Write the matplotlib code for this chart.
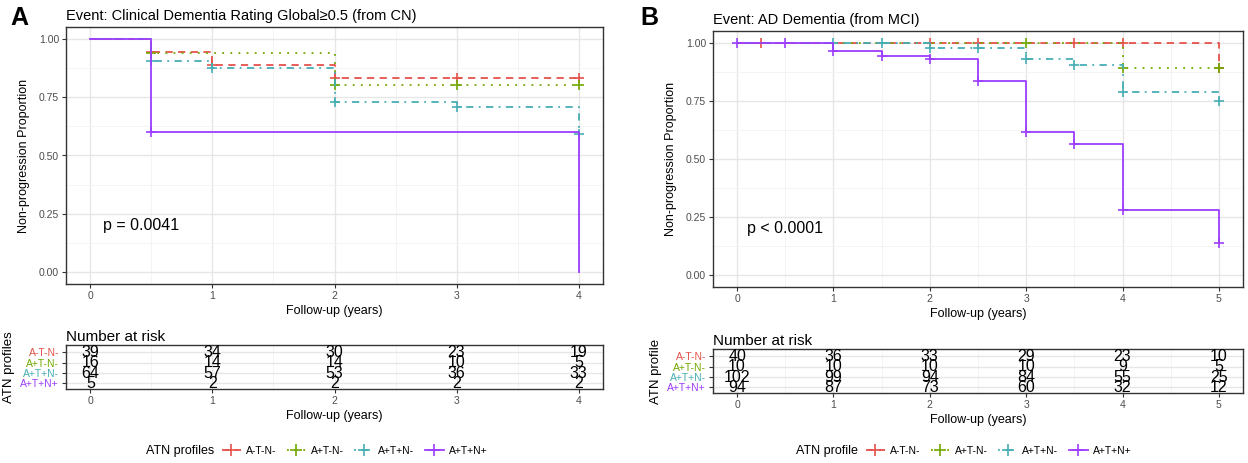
import numpy as np
import matplotlib
matplotlib.use("Agg")
import matplotlib.pyplot as plt
from matplotlib.lines import Line2D
from matplotlib import font_manager as fm

avail = {f.name for f in fm.fontManager.ttflist}
FONT = "Liberation Sans Narrow" if "Liberation Sans Narrow" in avail else "Liberation Sans"
plt.rcParams['font.family'] = [FONT, 'DejaVu Sans']

# ---------------- data ----------------
groups = ["A-T-N-", "A+T-N-", "A+T+N-", "A+T+N+"]
colors = ["#E5524B", "#72A800", "#45AEB4", "#9D3DFF"]
styles = [(0, (4, 3)), (0, (1, 3.5)), (0, (1, 3, 4, 3)), "-"]

# Panel A: CDR-G >= 0.5 from CN
timesA = [0, 0.5, 1, 2, 3, 4]
survA_ATNneg = [1.0, 0.944, 0.889, 0.833, 0.833, 0.833]
survA_Aonly = [1.0, 0.938, 0.938, 0.800, 0.800, 0.800]
survA_ATpos = [1.0, 0.906, 0.875, 0.727, 0.706, 0.594]
survA_ATNpos = [1.0, 0.600, 0.600, 0.600, 0.600, 0.000]
censA = [[0.5, 1, 2, 3, 4], [0.5, 2, 3, 4], [0.5, 1, 2, 3, 4], [0.5]]
riskA_times = [0, 1, 2, 3, 4]
riskA_ATNneg = [39, 34, 30, 23, 19]
riskA_Aonly = [16, 14, 14, 10, 5]
riskA_ATpos = [64, 57, 53, 36, 33]
riskA_ATNpos = [5, 2, 2, 2, 2]

# Panel B: AD dementia from MCI
timesB = [0, 1, 1.5, 2, 2.5, 3, 3.5, 4, 5]
survB_ATNneg = [1, 1, 1, 1, 1, 1, 1, 1, 0.890]
survB_Aonly = [1, 1, 1, 1, 1, 1, 1, 0.889, 0.889]
survB_ATpos = [1, 1, 1, 0.979, 0.979, 0.931, 0.905, 0.788, 0.750]
survB_ATNpos = [1, 0.966, 0.943, 0.928, 0.837, 0.616, 0.564, 0.283, 0.140]
censB = [[0.25, 2, 2.5, 3.5, 4, 5], [3, 4, 5],
         [1, 1.5, 2, 2.5, 3, 3.5, 4, 5],
         [0, 0.5, 1, 1.5, 2, 2.5, 3, 3.5, 4, 5]]
riskB_times = [0, 1, 2, 3, 4, 5]
riskB_ATNneg = [40, 36, 33, 29, 23, 10]
riskB_Aonly = [10, 10, 10, 10, 9, 5]
riskB_ATpos = [102, 99, 94, 84, 55, 25]
riskB_ATNpos = [94, 87, 73, 60, 32, 12]

W, H = 1248, 463
fig = plt.figure(figsize=(W / 100, H / 100), dpi=100)


def fbox(l, t, r, b):
    return [l / W, 1 - b / H, (r - l) / W, (b - t) / H]


GRID_MAJ = "#E6E6E6"
GRID_MIN = "#F2F2F2"
EDGE = "#333333"


def style_ax(ax, xmax, ymin, ymax, yminor):
    ax.set_xlim(-0.05 * xmax, xmax * 1.05)
    ax.set_ylim(ymin, ymax)
    ax.set_xticks(np.arange(0, xmax + 0.01, 1))
    ax.set_xticks(np.arange(0.5, xmax, 1), minor=True)
    ax.grid(True, which="major", color=GRID_MAJ, lw=1.0)
    ax.grid(True, which="minor", color=GRID_MIN, lw=0.6)
    if not yminor:
        ax.grid(False, which="minor", axis="y")
    ax.set_axisbelow(True)
    for s in ax.spines.values():
        s.set_color(EDGE)
        s.set_linewidth(1.0)
    ax.tick_params(which="major", length=3, color="#333333", labelsize=7.5,
                   labelcolor="#4D4D4D", pad=2)
    ax.tick_params(which="minor", length=0)


def km_panel(ax, times, survs, cens, xmax, ptext):
    style_ax(ax, xmax, -0.05, 1.05, True)
    ax.set_yticks([0, 0.25, 0.5, 0.75, 1.0])
    ax.set_yticks([0.125, 0.375, 0.625, 0.875], minor=True)
    ax.set_yticklabels(["0.00", "0.25", "0.50", "0.75", "1.00"])
    for s, c, ls, ct in zip(survs, colors, styles, cens):
        ax.step(times, s, where="post", color=c, lw=1.3, linestyle=ls)
        idx = np.searchsorted(times, ct, side="right") - 1
        ax.plot(ct, np.array(s)[idx], linestyle="none", marker="+",
                color=c, ms=7, mew=1.2)
    ax.text(0.1, 0.2, ptext, fontsize=11.5,
            ha="left", va="center", color="black")
    ax.set_xlabel("Follow-up (years)", fontsize=9, labelpad=3)
    ax.set_ylabel("Non-progression Proportion", fontsize=9, labelpad=6)


def risk_panel(ax, rtimes, rows, xmax, ylab):
    style_ax(ax, xmax, 0.45, 4.72, False)
    ax.set_yticks([4, 3, 2, 1])
    ax.set_yticklabels(groups)
    for lab, c in zip(ax.get_yticklabels(), colors):
        lab.set_color(c)
        lab.set_fontsize(7.5)
    for yi, r in zip([4, 3, 2, 1], rows):
        for t, v in zip(rtimes, r):
            ax.text(t, yi, str(v), ha="center", va="center", fontsize=11.5,
                    color="black")
    ax.set_xlabel("Follow-up (years)", fontsize=9, labelpad=3)
    ax.set_ylabel(ylab, fontsize=9.5, labelpad=4)


# Panel A
axA = fig.add_axes(fbox(66, 27, 603, 284))
km_panel(axA, timesA, [survA_ATNneg, survA_Aonly, survA_ATpos, survA_ATNpos],
         censA, 4, "p = 0.0041")
axA.set_title("Event: Clinical Dementia Rating Global\u22650.5 (from CN)",
              loc="left", fontsize=10.5, pad=5)
fig.text(10 / W, 1 - 18 / H, "A", fontsize=18, fontweight="bold",
         va="center", ha="left", family="Liberation Sans")

rA = fig.add_axes(fbox(66, 345, 603, 389))
risk_panel(rA, riskA_times, [riskA_ATNneg, riskA_Aonly, riskA_ATpos, riskA_ATNpos],
           4, "ATN profiles")
rA.set_title("Number at risk", loc="left", fontsize=11, pad=3)

# Panel B
axB = fig.add_axes(fbox(713, 31, 1243, 287))
km_panel(axB, timesB, [survB_ATNneg, survB_Aonly, survB_ATpos, survB_ATNpos],
         censB, 5, "p < 0.0001")
axB.set_title("Event: AD Dementia (from MCI)", loc="left", fontsize=10.5, pad=5)
fig.text(640 / W, 1 - 18 / H, "B", fontsize=18, fontweight="bold",
         va="center", ha="left", family="Liberation Sans")

rB = fig.add_axes(fbox(713, 349, 1243, 393))
risk_panel(rB, riskB_times, [riskB_ATNneg, riskB_Aonly, riskB_ATpos, riskB_ATNpos],
           5, "ATN profile")
rB.set_title("Number at risk", loc="left", fontsize=11, pad=3)

# Legends
handles = [Line2D([], [], color=c, linestyle=ls, lw=1.3, marker="+", ms=8, mew=1.2)
           for c, ls in zip(colors, styles)]
for title, xc, off in [("ATN profiles", 146, 76), ("ATN profile", 796, 70)]:
    fig.text(xc / W, 1 - 451 / H, title, fontsize=9, va="center", ha="left")
    fig.legend(handles, groups, loc="center left",
               bbox_to_anchor=((xc + off) / W, 1 - 451 / H), ncol=4,
               frameon=False, fontsize=7.5, handlelength=1.8,
               handletextpad=0.5, columnspacing=1.0, borderaxespad=0,
               borderpad=0)

fig.savefig("out.png", dpi=100)
